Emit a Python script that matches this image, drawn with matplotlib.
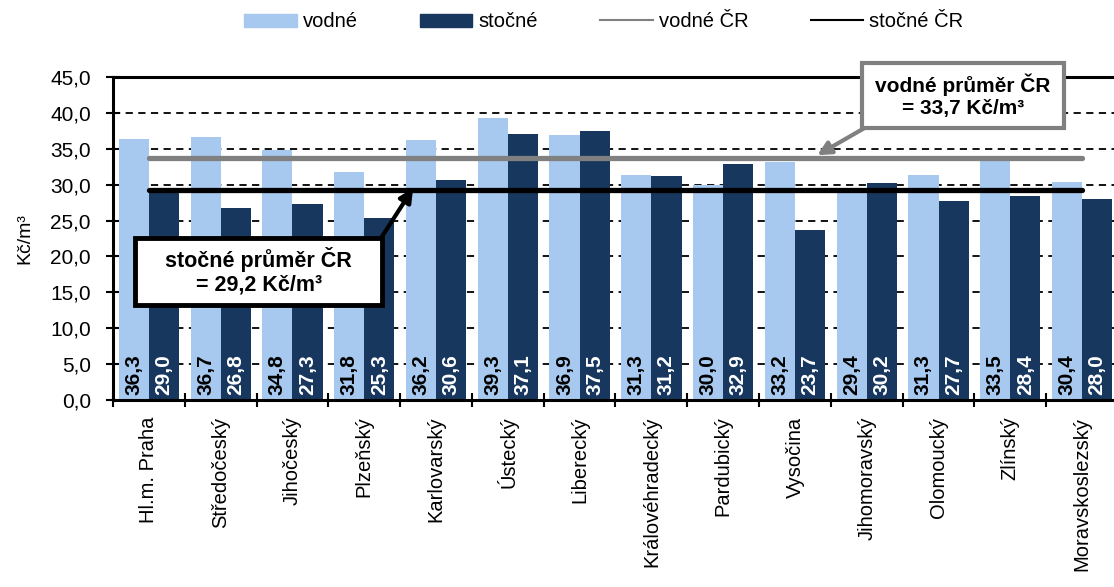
import matplotlib
matplotlib.use("Agg")
import matplotlib.pyplot as plt
import numpy as np
from matplotlib.lines import Line2D
from matplotlib.patches import Patch, Rectangle

plt.rcParams['font.family'] = ['Liberation Sans', 'DejaVu Sans']

# Data
kraje = ["Hl.m. Praha", "Středočeský", "Jihočeský", "Plzeňský", "Karlovarský",
         "Ústecký", "Liberecký", "Královéhradecký", "Pardubický", "Vysočina",
         "Jihomoravský", "Olomoucký", "Zlínský", "Moravskoslezský"]
vodne = [36.3, 36.7, 34.8, 31.8, 36.2, 39.3, 36.9, 31.3, 30.0, 33.2, 29.4, 31.3, 33.5, 30.4]
stocne = [29.0, 26.8, 27.3, 25.3, 30.6, 37.1, 37.5, 31.2, 32.9, 23.7, 30.2, 27.7, 28.4, 28.0]
vodne_cr = 33.7
stocne_cr = 29.2

light = '#A7C9EF'
dark = '#17375E'


def fmt(v):
    return f"{v:.1f}".replace('.', ',')


fig = plt.figure(figsize=(11.14, 5.87), dpi=100)
# right edge of the plot area runs slightly past the figure, like the original
ax = fig.add_axes([113 / 1114, 1 - 400 / 587, 1005 / 1114, 323 / 587])

x = np.arange(len(kraje))
w = 0.42
ax.bar(x - w / 2, vodne, w, color=light, zorder=2)
ax.bar(x + w / 2, stocne, w, color=dark, zorder=2)

# national averages as line series across the categories
ax.plot(x, [vodne_cr] * len(x), color='#808080', lw=3.8, solid_capstyle='round', zorder=3)
ax.plot(x, [stocne_cr] * len(x), color='black', lw=3.8, solid_capstyle='round', zorder=3)

# value labels at the bar bottoms
for i in range(len(x)):
    ax.text(x[i] - w / 2, 0.7, fmt(vodne[i]), rotation=90, ha='center', va='bottom',
            fontsize=15, fontweight='bold', color='black', zorder=4)
    ax.text(x[i] + w / 2, 0.7, fmt(stocne[i]), rotation=90, ha='center', va='bottom',
            fontsize=15, fontweight='bold', color='white', zorder=4)

# axes
ax.set_xlim(-0.5, len(x) - 0.5)
ax.set_ylim(0, 45)
yt = np.arange(0, 46, 5)
ax.set_yticks(yt)
ax.set_yticklabels([fmt(v) for v in yt], fontsize=15)
ax.tick_params(axis='y', direction='inout', length=10, width=1.5, pad=11)
ax.set_xticks(x)
ax.set_xticklabels(kraje, rotation=90, fontsize=14.5)
ax.tick_params(axis='x', which='major', length=0, pad=12)
ax.set_xticks(np.arange(-0.5, len(x), 1), minor=True)
ax.tick_params(axis='x', which='minor', direction='inout', length=10, width=1.5)
ax.set_ylabel("Kč/m³", fontsize=14, labelpad=12)

for g in yt[1:-1]:
    ax.axhline(g, color='black', lw=1.3, ls=(0, (4, 3)), zorder=1)

ax.spines['right'].set_visible(False)
for s in ['left', 'bottom', 'top']:
    ax.spines[s].set_linewidth(2.2)

# callout boxes
ax.add_patch(Rectangle((9.93, 37.9), 2.815, 9.05, fc='white', ec='#808080', lw=3,
                       zorder=6, clip_on=False))
ax.text(11.34, 42.4, "vodné průměr ČR\n= 33,7 Kč/m³", ha='center', va='center',
        fontsize=15, fontweight='bold', zorder=7, linespacing=1.15)
ax.annotate("", xy=(9.31, 34.1), xytext=(9.97, 37.9), zorder=5,
            arrowprops=dict(arrowstyle='-|>,head_length=0.8,head_width=0.4', color='#808080',
                            lw=3, shrinkA=0, shrinkB=0))

ax.add_patch(Rectangle((-0.19, 13.23), 3.44, 9.34, fc='white', ec='black', lw=3.5,
                       zorder=6))
ax.text(1.53, 17.9, "stočné průměr ČR\n= 29,2 Kč/m³", ha='center', va='center',
        fontsize=15.5, fontweight='bold', zorder=7, linespacing=1.15)
ax.annotate("", xy=(3.68, 29.5), xytext=(3.23, 22.5), zorder=5,
            arrowprops=dict(arrowstyle='-|>,head_length=0.8,head_width=0.4', color='black',
                            lw=3, shrinkA=0, shrinkB=0))

# legend
handles = [Patch(color=light), Patch(color=dark),
           Line2D([], [], color='#808080', lw=1.5), Line2D([], [], color='black', lw=1.5)]
labels = ["vodné", "stočné", "vodné ČR", "stočné ČR"]
fig.legend(handles, labels, loc='center', bbox_to_anchor=(0.542, 0.963), ncol=4,
           frameon=False, fontsize=14.5, handlelength=2.6, handleheight=0.6,
           handletextpad=0.3, columnspacing=3.1)

fig.savefig("out.png", dpi=100)
